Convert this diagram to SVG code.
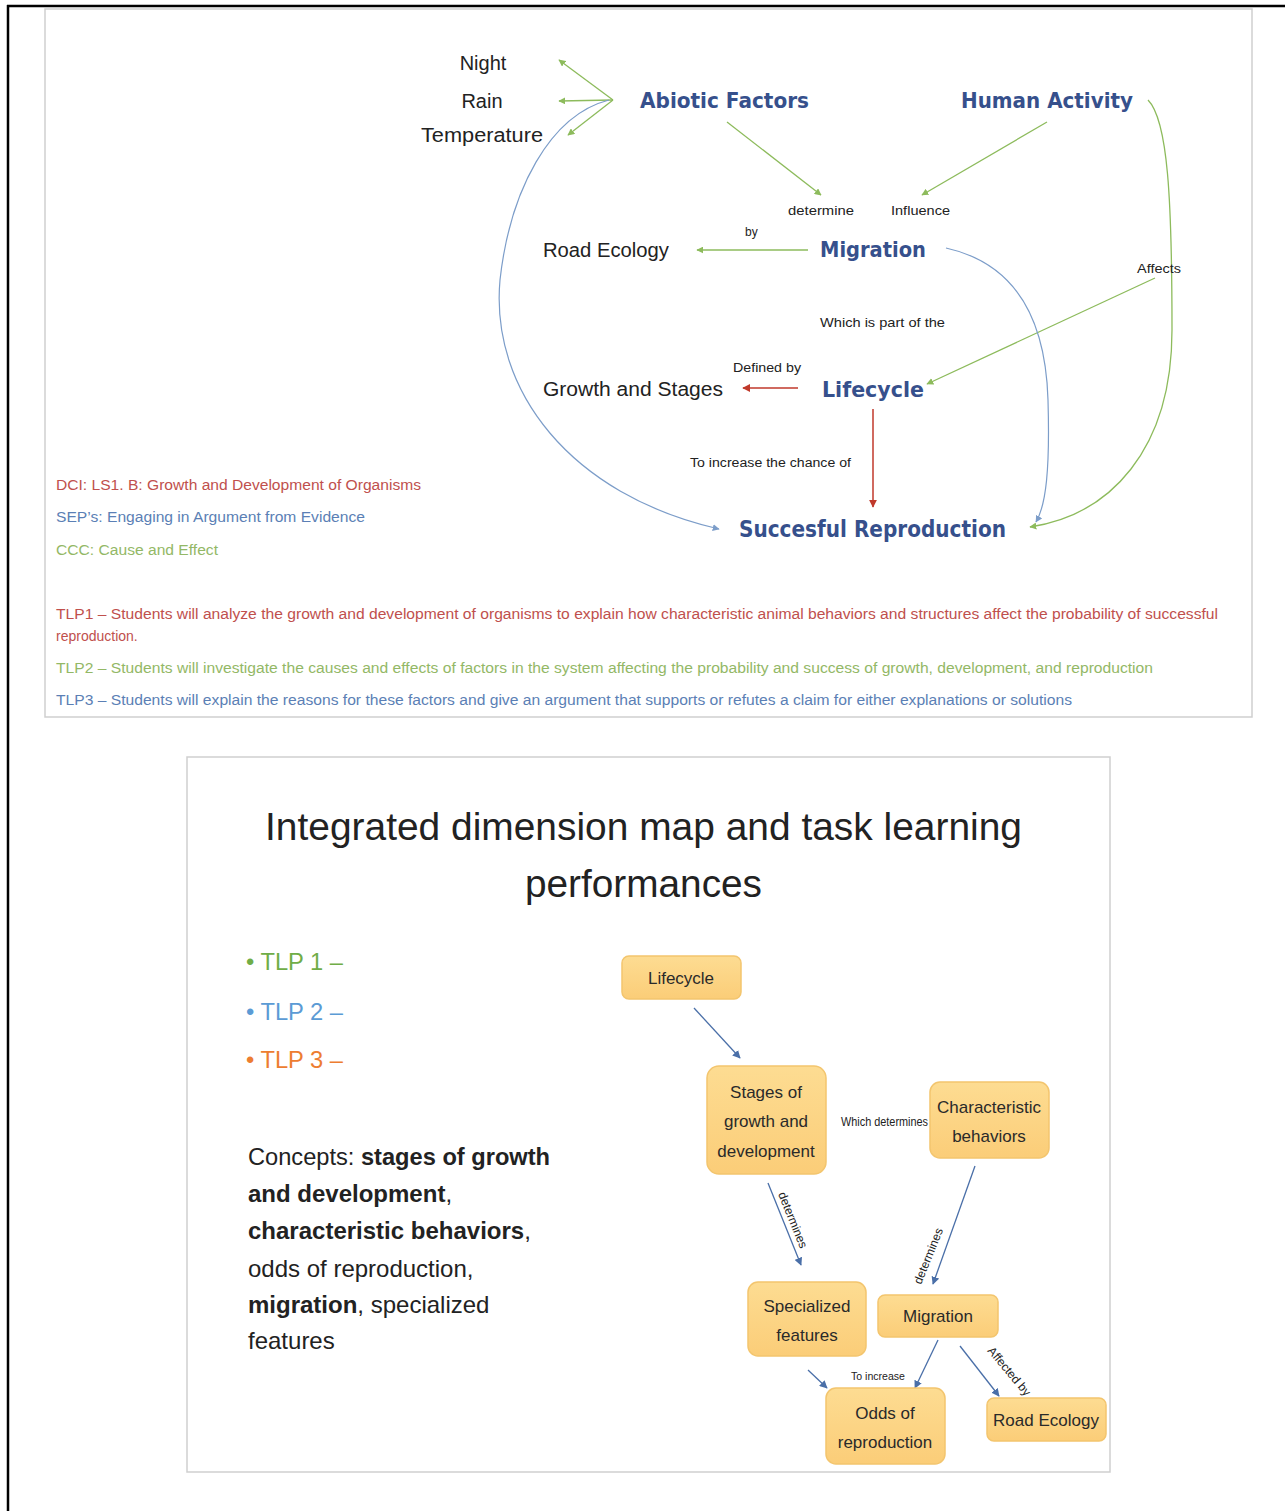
<svg xmlns="http://www.w3.org/2000/svg" width="1285" height="1511" viewBox="0 0 1285 1511">
<style>
.t{font-family:"Liberation Sans",Arial,sans-serif;fill:#222}
.big{font-size:20px}
.sm{font-size:12px}
.key{font-family:"DejaVu Sans","Liberation Sans",sans-serif;font-weight:bold;fill:#36508c}
.g{stroke:#8dbb5c;stroke-width:1.3;fill:none}
.r{stroke:#c0392b;stroke-width:1.5;fill:none}
.b{stroke:#7c9dc9;stroke-width:1.2;fill:none}
.sb{stroke:#4a6fa8;stroke-width:1.3;fill:none}
.box{fill:url(#og);stroke:#f3c56e;stroke-width:1.5}
.bt{font-family:"Liberation Sans",Arial,sans-serif;font-size:17px;fill:#2a2a2a;text-anchor:middle}
.leg{font-family:"Liberation Sans",Arial,sans-serif;font-size:14px}
.bul{font-family:"Liberation Sans",Arial,sans-serif;font-size:24px}
</style>
<defs>
<linearGradient id="og" x1="0" y1="0" x2="0" y2="1"><stop offset="0" stop-color="#fddc92"/><stop offset="1" stop-color="#fbcd78"/></linearGradient>
<marker id="ag" viewBox="0 0 10 10" refX="9" refY="5" markerWidth="7" markerHeight="7" markerUnits="userSpaceOnUse" orient="auto"><path d="M0,0L10,5L0,10z" fill="#8dbb5c"/></marker>
<marker id="ar" viewBox="0 0 10 10" refX="9" refY="5" markerWidth="8" markerHeight="8" markerUnits="userSpaceOnUse" orient="auto"><path d="M0,0L10,5L0,10z" fill="#c0392b"/></marker>
<marker id="ab" viewBox="0 0 10 10" refX="9" refY="5" markerWidth="7" markerHeight="7" markerUnits="userSpaceOnUse" orient="auto"><path d="M0,0L10,5L0,10z" fill="#7c9dc9"/></marker>
<marker id="asb" viewBox="0 0 10 10" refX="9" refY="5" markerWidth="8" markerHeight="8" markerUnits="userSpaceOnUse" orient="auto"><path d="M0,0L10,5L0,10z" fill="#4a6fa8"/></marker>
</defs>
<rect width="1285" height="1511" fill="#fff"/>
<!-- page frame -->
<line x1="7" y1="6" x2="1285" y2="6" stroke="#000" stroke-width="2.5"/>
<line x1="8" y1="5" x2="8" y2="1511" stroke="#000" stroke-width="2.5"/>
<!-- panels -->
<rect x="45" y="9" width="1207" height="708" fill="#fff" stroke="#cfcfcf" stroke-width="1.5"/>
<rect x="187" y="757" width="923" height="715" fill="#fff" stroke="#cfcfcf" stroke-width="1.5"/>

<g id="connectors-top">
<line class="g" x1="613" y1="100" x2="559" y2="60" marker-end="url(#ag)"/>
<line class="g" x1="613" y1="100" x2="559" y2="101" marker-end="url(#ag)"/>
<line class="g" x1="613" y1="100" x2="568" y2="135" marker-end="url(#ag)"/>
<line class="g" x1="727" y1="122" x2="821" y2="195" marker-end="url(#ag)"/>
<line class="g" x1="1047" y1="122" x2="922" y2="195" marker-end="url(#ag)"/>
<line class="g" x1="808" y1="250" x2="697" y2="250" marker-end="url(#ag)"/>
<line class="g" x1="1155" y1="278" x2="927" y2="384" marker-end="url(#ag)"/>
<path class="g" d="M1148,100 C1168,120 1172,200 1172,330 C1172,450 1110,515 1030,527" marker-end="url(#ag)"/>
<path class="b" d="M946,248 C1000,260 1045,300 1048,400 C1050,470 1046,505 1036,522" marker-end="url(#ab)"/>
<path class="b" d="M609,100 C550,115 510,190 500,280 C490,390 570,495 719,529" marker-end="url(#ab)"/>
<line class="r" x1="798" y1="388" x2="743" y2="388" marker-end="url(#ar)"/>
<line class="r" x1="873" y1="409" x2="873" y2="507" marker-end="url(#ar)"/>
</g>

<g id="n-night"><text class="t big" x="483" y="70" text-anchor="middle">Night</text></g>
<g id="n-rain"><text class="t big" x="482" y="108" text-anchor="middle">Rain</text></g>
<g id="n-temperature"><text class="t big" x="421" y="142" textLength="122" lengthAdjust="spacingAndGlyphs">Temperature</text></g>
<g id="n-abiotic"><text class="key" x="640" y="108" font-size="21" textLength="169" lengthAdjust="spacingAndGlyphs">Abiotic Factors</text></g>
<g id="n-human"><text class="key" x="961" y="108" font-size="21" textLength="172" lengthAdjust="spacingAndGlyphs">Human Activity</text></g>
<g id="n-road"><text class="t big" x="543" y="257" textLength="126" lengthAdjust="spacingAndGlyphs">Road Ecology</text></g>
<g id="n-migration"><text class="key" x="820" y="257" font-size="21" textLength="106" lengthAdjust="spacingAndGlyphs">Migration</text></g>
<g id="n-growth"><text class="t big" x="543" y="396" textLength="180" lengthAdjust="spacingAndGlyphs">Growth and Stages</text></g>
<g id="n-lifecycle"><text class="key" x="822" y="397" font-size="21" textLength="102" lengthAdjust="spacingAndGlyphs">Lifecycle</text></g>
<g id="n-success"><text class="key" x="739" y="537" font-size="23" textLength="267" lengthAdjust="spacingAndGlyphs">Succesful Reproduction</text></g>

<g id="labels-top">
<text class="t sm" x="788" y="215" textLength="66" lengthAdjust="spacingAndGlyphs">determine</text>
<text class="t sm" x="891" y="215" textLength="59" lengthAdjust="spacingAndGlyphs">Influence</text>
<text class="t sm" x="745" y="236">by</text>
<text class="t sm" x="1137" y="273" textLength="44" lengthAdjust="spacingAndGlyphs">Affects</text>
<text class="t" x="820" y="327" font-size="13" textLength="125" lengthAdjust="spacingAndGlyphs">Which is part of the</text>
<text class="t sm" x="733" y="372" textLength="68" lengthAdjust="spacingAndGlyphs">Defined by</text>
<text class="t sm" x="690" y="467" textLength="161" lengthAdjust="spacingAndGlyphs">To increase the chance of</text>
</g>

<g id="legend">
<text class="leg" x="56" y="490" fill="#c0504d" textLength="365" lengthAdjust="spacingAndGlyphs">DCI: LS1. B: Growth and Development of Organisms</text>
<text class="leg" x="56" y="522" fill="#5b7fb5" textLength="309" lengthAdjust="spacingAndGlyphs">SEP’s: Engaging in Argument from Evidence</text>
<text class="leg" x="56" y="555" fill="#93b866" textLength="162" lengthAdjust="spacingAndGlyphs">CCC: Cause and Effect</text>
<text class="leg" x="56" y="619" fill="#c0504d" textLength="1162" lengthAdjust="spacingAndGlyphs">TLP1 – Students will analyze the growth and development of organisms to explain how characteristic animal behaviors and structures affect the probability of successful</text>
<text class="leg" x="56" y="641" fill="#c0504d">reproduction.</text>
<text class="leg" x="56" y="673" fill="#93b866" textLength="1097" lengthAdjust="spacingAndGlyphs">TLP2 – Students will investigate the causes and effects of factors in the system affecting the probability and success of growth, development, and reproduction</text>
<text class="leg" x="56" y="705" fill="#5b7fb5" textLength="1016" lengthAdjust="spacingAndGlyphs">TLP3 – Students will explain the reasons for these factors and give an argument that supports or refutes a claim for either explanations or solutions</text>
</g>

<!-- slide -->
<g id="slide-title">
<text class="t" x="265" y="840" font-size="38" textLength="757" lengthAdjust="spacingAndGlyphs">Integrated dimension map and task learning</text>
<text class="t" x="525" y="897" font-size="38" textLength="237" lengthAdjust="spacingAndGlyphs">performances</text>
</g>
<g id="bullets">
<text class="bul" x="246" y="970" fill="#70ad47" textLength="97" lengthAdjust="spacingAndGlyphs">• TLP 1 –</text>
<text class="bul" x="246" y="1020" fill="#5b9bd5" textLength="97" lengthAdjust="spacingAndGlyphs">• TLP 2 –</text>
<text class="bul" x="246" y="1068" fill="#ed7d31" textLength="97" lengthAdjust="spacingAndGlyphs">• TLP 3 –</text>
</g>
<g id="concepts" class="t" font-size="24">
<text x="248" y="1165" textLength="302" lengthAdjust="spacingAndGlyphs">Concepts: <tspan font-weight="bold">stages of growth</tspan></text>
<text x="248" y="1202" font-weight="bold">and development<tspan font-weight="normal">,</tspan></text>
<text x="248" y="1239" font-weight="bold">characteristic behaviors<tspan font-weight="normal">,</tspan></text>
<text x="248" y="1277">odds of reproduction,</text>
<text x="248" y="1313"><tspan font-weight="bold">migration</tspan>, specialized</text>
<text x="248" y="1349">features</text>
</g>

<g id="connectors-slide">
<line class="sb" x1="694" y1="1008" x2="740" y2="1058" marker-end="url(#asb)"/>
<line class="sb" x1="768" y1="1183" x2="801" y2="1265" marker-end="url(#asb)"/>
<line class="sb" x1="975" y1="1166" x2="933" y2="1284" marker-end="url(#asb)"/>
<line class="sb" x1="938" y1="1340" x2="915" y2="1388" marker-end="url(#asb)"/>
<line class="sb" x1="808" y1="1370" x2="827" y2="1388" marker-end="url(#asb)"/>
<line class="sb" x1="960" y1="1346" x2="999" y2="1396" marker-end="url(#asb)"/>
<text class="t" x="841" y="1126" font-size="12" textLength="87" lengthAdjust="spacingAndGlyphs">Which determines</text>
<text class="t" x="851" y="1380" font-size="11" textLength="54" lengthAdjust="spacingAndGlyphs">To increase</text>
<text class="t" font-size="12" transform="translate(778,1194) rotate(68)">determines</text>
<text class="t" font-size="12" transform="translate(921,1285) rotate(-68)">determines</text>
<text class="t" font-size="12" transform="translate(987,1351) rotate(50)">Affected by</text>
</g>

<g id="s-lifecycle"><rect class="box" x="622" y="956" width="119" height="43" rx="7"/><text class="bt" x="681" y="984">Lifecycle</text></g>
<g id="s-stages"><rect class="box" x="707" y="1066" width="119" height="108" rx="12"/><text class="bt" x="766" y="1098">Stages of</text><text class="bt" x="766" y="1127">growth and</text><text class="bt" x="766" y="1157">development</text></g>
<g id="s-char"><rect class="box" x="930" y="1082" width="119" height="76" rx="10"/><text class="bt" x="989" y="1113">Characteristic</text><text class="bt" x="989" y="1142">behaviors</text></g>
<g id="s-special"><rect class="box" x="748" y="1282" width="118" height="74" rx="10"/><text class="bt" x="807" y="1312">Specialized</text><text class="bt" x="807" y="1341">features</text></g>
<g id="s-migration"><rect class="box" x="878" y="1295" width="120" height="42" rx="7"/><text class="bt" x="938" y="1322">Migration</text></g>
<g id="s-odds"><rect class="box" x="826" y="1388" width="119" height="76" rx="10"/><text class="bt" x="885" y="1419">Odds of</text><text class="bt" x="885" y="1448">reproduction</text></g>
<g id="s-road"><rect class="box" x="987" y="1398" width="119" height="43" rx="7"/><text class="bt" x="1046" y="1426">Road Ecology</text></g>
</svg>
